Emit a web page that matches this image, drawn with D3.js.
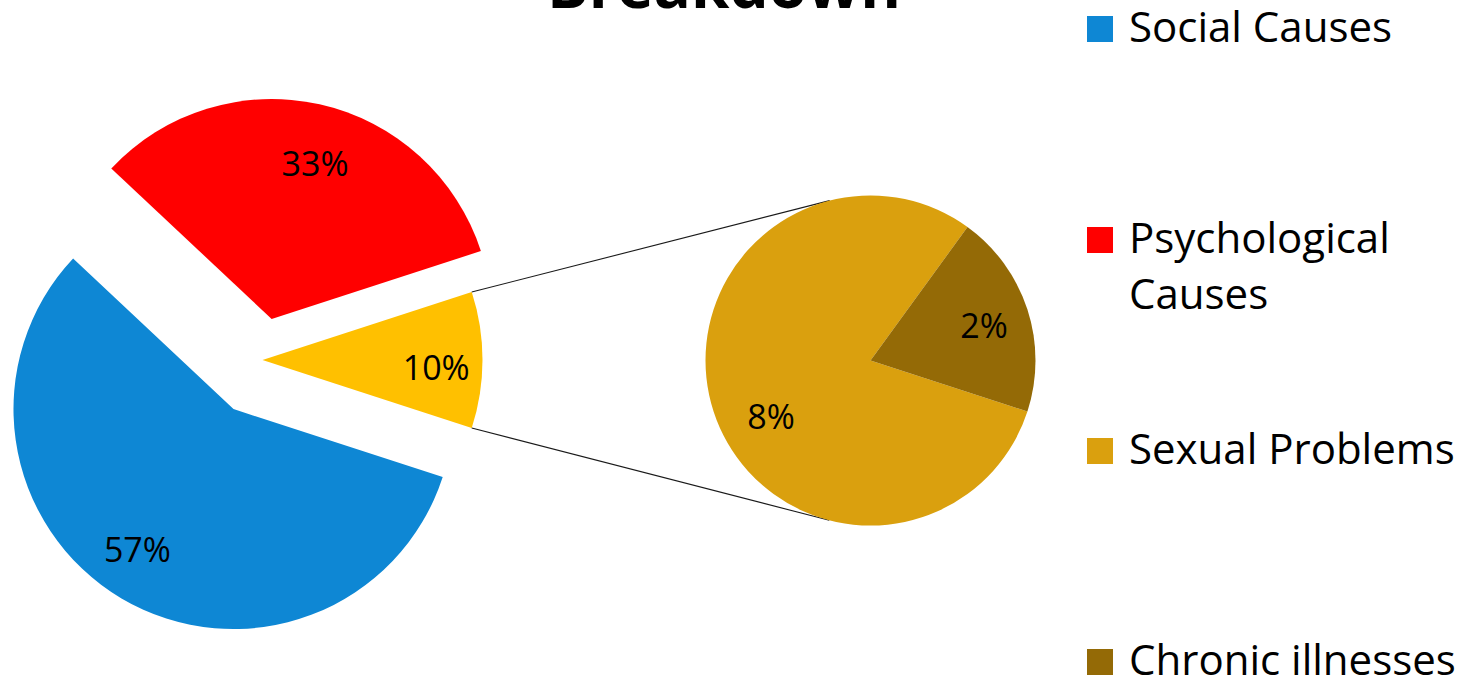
<!DOCTYPE html>
<html>
<head>
<meta charset="utf-8">
<title>Breakdown</title>
<script src="https://cdn.jsdelivr.net/npm/d3@7"></script>
<style>
  html, body { margin: 0; padding: 0; background: #ffffff; }
  svg { display: block; }
</style>
</head>
<body>
<svg id="chart" width="1472" height="681"></svg>
<script>
// ---- data ----
const chartTitle = "Breakdown";
const mainCategories = ["Social Causes", "Psychological Causes", "Other"];
const mainValues = [57, 33, 10];
const subCategories = ["Sexual Problems", "Chronic illnesses"];
const subValues = [8, 2];
const legendLabels = ["Social Causes", "Psychological Causes", "Sexual Problems", "Chronic illnesses"];

// ---- colours ----
const mainColors = ["#0E87D4", "#FF0000", "#FFC000"];
const subColors = ["#DAA00E", "#946A06"];
const legendColors = ["#0E87D4", "#FF0000", "#DAA00E", "#946A06"];

// ---- layout ----
const W = 1472, H = 681;
const FONT = "'Open Sans', 'Noto Sans', sans-serif";
const mainCenter = { x: 262.5, y: 360 };
const mainRadius = 220;
const mainExplode = [57, 42, 0];          // px pushed out along each slice's mid-angle
const mainLabelRatio = [0.765, 0.742, 0.79];
const mainLabelTurn = [4.2, 2.8, 2.0];    // degrees, label nudge around the slice vertex
const subCenter = { x: 870.5, y: 360.5 };
const subRadius = 165;
const subLabelRatio = [0.687, 0.724];
const subLabelTurn = [-10.6, 0];
const labelSize = 34;
const legendX = 1087, legendTextX = 1129, legendSwatch = 26;
const legendFirstBaseline = 42, legendStep = 211, legendLineHeight = 56, legendSize = 42;
const legendWrapWidth = 345;

const svg = d3.select("#chart");
const fmt = v => d3.format(".0f")(v) + "%";
const total = d3.sum(mainValues);
const rad = deg => deg * Math.PI / 180;

// The "Other" slice is centred on the right (3 o'clock) so it faces the secondary pie.
const rotation = Math.PI / 2 + Math.PI * mainValues[mainValues.length - 1] / total;

const mainPie = d3.pie().sort(null).value(d => d)
  .startAngle(rotation).endAngle(rotation + 2 * Math.PI);
const subPie = d3.pie().sort(null).value(d => d)
  .startAngle(rotation).endAngle(rotation + 2 * Math.PI);

const mainArc = d3.arc().innerRadius(0).outerRadius(mainRadius);
const subArc = d3.arc().innerRadius(0).outerRadius(subRadius);

const dir = a => [Math.sin(a), -Math.cos(a)];

// ---- title (its first line sits above the frame) ----
svg.append("text")
  .attr("x", 724).attr("y", 8)
  .attr("text-anchor", "middle")
  .style("font-family", FONT).style("font-weight", 700).style("font-size", "62px")
  .attr("fill", "#000")
  .text(chartTitle);

// ---- main pie ----
const mainArcs = mainPie(mainValues);
const mainG = svg.append("g");
const slices = mainG.selectAll("g.slice").data(mainArcs).join("g")
  .attr("class", "slice")
  .attr("transform", (d, i) => {
    const m = (d.startAngle + d.endAngle) / 2;
    const [dx, dy] = dir(m);
    return `translate(${mainCenter.x + dx * mainExplode[i]},${mainCenter.y + dy * mainExplode[i]})`;
  });
slices.append("path")
  .attr("d", mainArc)
  .attr("fill", (d, i) => mainColors[i]);
slices.append("text")
  .attr("transform", (d, i) => {
    const m = (d.startAngle + d.endAngle) / 2 + rad(mainLabelTurn[i]);
    const [dx, dy] = dir(m);
    const r = mainRadius * mainLabelRatio[i];
    return `translate(${dx * r},${dy * r})`;
  })
  .attr("text-anchor", "middle")
  .attr("dy", "0.42em")
  .style("font-family", FONT).style("font-size", labelSize + "px")
  .attr("fill", "#000")
  .text(d => fmt(d.data));

// ---- connector lines from the "Other" slice to the secondary pie ----
const other = mainArcs[mainArcs.length - 1];
const otherOff = dir((other.startAngle + other.endAngle) / 2).map(v => v * mainExplode[mainArcs.length - 1]);
function edgePoint(a) {
  const [dx, dy] = dir(a);
  return [mainCenter.x + otherOff[0] + dx * mainRadius, mainCenter.y + otherOff[1] + dy * mainRadius];
}
function tangents(p) {
  const vx = p[0] - subCenter.x, vy = p[1] - subCenter.y;
  const d = Math.hypot(vx, vy);
  const base = Math.atan2(vy, vx);
  const t = Math.acos(subRadius / d);
  return [base + t, base - t].map(a => [subCenter.x + subRadius * Math.cos(a), subCenter.y + subRadius * Math.sin(a)]);
}
const pTop = edgePoint(other.startAngle);
const pBot = edgePoint(other.endAngle);
const tTop = tangents(pTop).sort((a, b) => a[1] - b[1])[0];
const tBot = tangents(pBot).sort((a, b) => b[1] - a[1])[0];
svg.append("g").selectAll("line").data([[pTop, tTop], [pBot, tBot]]).join("line")
  .attr("x1", d => d[0][0]).attr("y1", d => d[0][1])
  .attr("x2", d => d[1][0]).attr("y2", d => d[1][1])
  .attr("stroke", "#1a1a1a").attr("stroke-width", 1.1);

// ---- secondary pie ----
const subArcs = subPie(subValues);
const subG = svg.append("g").attr("transform", `translate(${subCenter.x},${subCenter.y})`);
subG.selectAll("path").data(subArcs).join("path")
  .attr("d", subArc)
  .attr("fill", (d, i) => subColors[i]);
subG.selectAll("text").data(subArcs).join("text")
  .attr("transform", (d, i) => {
    const m = (d.startAngle + d.endAngle) / 2 + rad(subLabelTurn[i]);
    const [dx, dy] = dir(m);
    const r = subRadius * subLabelRatio[i];
    return `translate(${dx * r},${dy * r})`;
  })
  .attr("text-anchor", "middle")
  .attr("dy", "0.42em")
  .style("font-family", FONT).style("font-size", labelSize + "px")
  .attr("fill", "#000")
  .text(d => fmt(d.data));

// ---- legend ----
const legend = svg.append("g");
const measurer = svg.append("text")
  .style("font-family", FONT).style("font-size", legendSize + "px")
  .attr("visibility", "hidden");
function wrap(label) {
  const words = label.split(" ");
  const lines = [];
  let cur = "";
  words.forEach(w => {
    const trial = cur ? cur + " " + w : w;
    measurer.text(trial);
    if (cur && measurer.node().getComputedTextLength() > legendWrapWidth) {
      lines.push(cur);
      cur = w;
    } else {
      cur = trial;
    }
  });
  if (cur) lines.push(cur);
  return lines;
}
legendLabels.forEach((label, i) => {
  const base = legendFirstBaseline + i * legendStep;
  legend.append("rect")
    .attr("x", legendX).attr("y", base - legendSwatch)
    .attr("width", legendSwatch).attr("height", legendSwatch)
    .attr("fill", legendColors[i]);
  const t = legend.append("text")
    .attr("x", legendTextX).attr("y", base)
    .style("font-family", FONT).style("font-size", legendSize + "px")
    .attr("fill", "#000");
  wrap(label).forEach((line, j) => {
    t.append("tspan").attr("x", legendTextX).attr("y", base + j * legendLineHeight).text(line);
  });
});
measurer.remove();
</script>
</body>
</html>
